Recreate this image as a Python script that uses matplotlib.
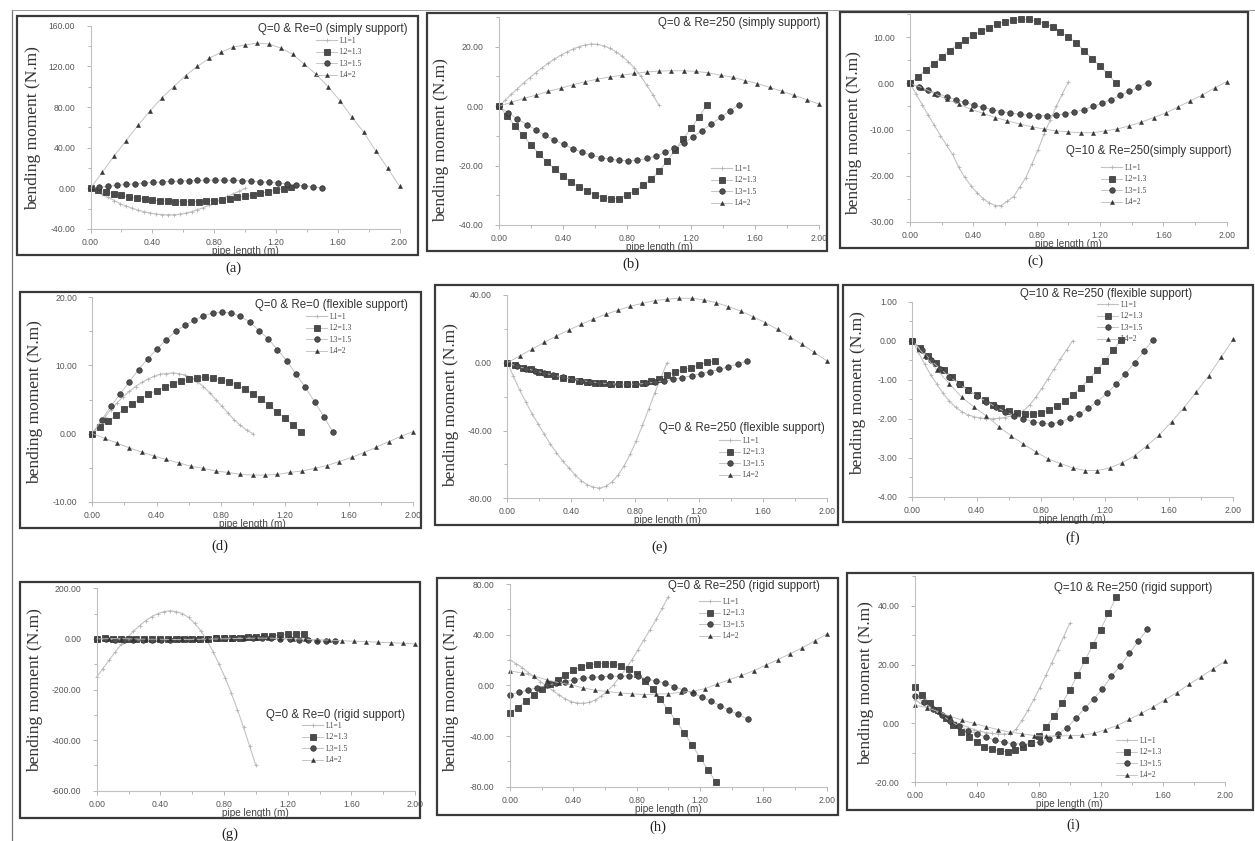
import numpy as np
import matplotlib.pyplot as plt
from matplotlib.patches import Rectangle
from matplotlib.lines import Line2D
from matplotlib.ticker import MultipleLocator, FormatStrFormatter

W, H = 1255, 841

pipe_lengths = [1.0, 1.3, 1.5, 2.0]
series_labels = ['L1=1', 'L2=1.3', 'L3=1.5', 'L4=2']
x_ticks = [0.0, 0.4, 0.8, 1.2, 1.6, 2.0]

# bending moment, 27 stations along each pipe length
a_l1 = [0, -3, -6, -9, -12, -15, -17.5, -19.5, -21.5, -23, -24.3, -25.2, -25.8, -26, -26, -25.5, -24.5, -23, -21, -19, -16.5, -14, -11, -8, -5.5, -3, 0]
a_l2 = [0, -1.5, -3.5, -5.5, -7, -8.5, -9.8, -10.8, -11.6, -12.2, -12.7, -13, -13.2, -13.2, -13, -12.6, -12, -11.2, -10.2, -9, -7.7, -6.3, -4.8, -3.3, -1.8, -0.3, 1.5]
a_l3 = [0, 1, 2, 3, 3.8, 4.5, 5.2, 5.8, 6.3, 6.8, 7.2, 7.5, 7.8, 8, 8, 8, 7.8, 7.5, 7.1, 6.6, 6, 5.3, 4.5, 3.6, 2.6, 1.5, 0.5]
a_l4 = [0, 16, 32, 47, 62, 76, 89, 100, 111, 120, 128, 134, 139, 141, 143, 142, 138, 132, 122, 112, 100, 86, 70, 55, 37, 20, 2]

b_l1 = [0, 2, 4, 5.9, 7.8, 9.6, 11.3, 12.9, 14.4, 15.8, 17.1, 18.2, 19.2, 20, 20.6, 20.9, 20.8, 20.3, 19.5, 18.3, 16.8, 15, 12.8, 10.2, 7.1, 3.8, 0.3]
b_l2 = [0, -3.3, -6.6, -9.8, -13.1, -16, -18.8, -21.2, -23.5, -25.5, -27.2, -28.5, -29.8, -30.8, -31.1, -31.1, -30, -28.5, -26.7, -24.6, -21.8, -18.5, -14.8, -11, -7.5, -3.6, 0.5]
b_l3 = [0, -2.3, -4.3, -6.2, -8, -9.8, -11.4, -12.9, -14.3, -15.5, -16.5, -17.3, -17.9, -18.2, -18.4, -18.2, -17.6, -16.8, -15.6, -14.2, -12.4, -10.4, -8.2, -6, -3.8, -1.6, 0.5]
b_l4 = [0, 1.3, 2.6, 3.7, 5, 6, 7.2, 8.2, 9.1, 9.8, 10.4, 11, 11.5, 11.8, 11.9, 11.9, 11.7, 11.2, 10.4, 9.7, 8.6, 7.6, 6.3, 5, 3.6, 2.2, 0.7]

c_l1 = [0, -2.3, -4.6, -6.9, -9.1, -11.3, -13.4, -15.4, -18.2, -20.4, -22.2, -23.7, -25, -25.9, -26.5, -26.5, -25.5, -24.6, -22.5, -20.5, -17.5, -14.5, -11, -8, -5, -2.3, 0.3]
c_l2 = [0, 1.4, 3, 4.3, 5.8, 7.1, 8.4, 9.5, 10.5, 11.3, 12.1, 12.9, 13.4, 13.7, 13.9, 13.9, 13.6, 13, 12.3, 11.2, 10, 8.8, 7.1, 5.4, 3.8, 2, 0.1]
c_l3 = [0, -0.8, -1.5, -2.2, -2.9, -3.5, -4.1, -4.7, -5.2, -5.7, -6.1, -6.4, -6.7, -6.9, -7, -7, -6.9, -6.6, -6.2, -5.7, -5, -4.3, -3.5, -2.6, -1.7, -0.8, 0.2]
c_l4 = [0, -0.9, -2.2, -3.4, -4.5, -5.6, -6.5, -7.4, -8.1, -8.8, -9.4, -9.9, -10.3, -10.5, -10.7, -10.7, -10.3, -9.9, -9.2, -8.4, -7.4, -6.4, -5.1, -3.8, -2.5, -1, 0.4]

d_l1 = [0, 1.2, 2.4, 3.5, 4.5, 5.4, 6.2, 6.9, 7.5, 8, 8.4, 8.7, 8.8, 8.9, 8.8, 8.6, 8.2, 7.6, 6.9, 6, 5, 4, 3, 2, 1.2, 0.5, 0]
d_l2 = [0, 1, 1.8, 2.7, 3.6, 4.4, 5.1, 5.8, 6.3, 6.8, 7.3, 7.7, 8, 8.2, 8.3, 8.1, 7.9, 7.6, 7.1, 6.5, 5.8, 5.1, 4.2, 3.2, 2.3, 1.2, 0.2]
d_l3 = [0, 2, 4, 5.8, 7.6, 9.4, 11, 12.4, 13.8, 15, 15.9, 16.6, 17.3, 17.7, 17.8, 17.7, 17.2, 16.4, 15.1, 13.9, 12.3, 10.7, 8.7, 6.8, 4.7, 2.5, 0.2]
d_l4 = [0, -0.7, -1.4, -2.1, -2.7, -3.3, -3.8, -4.3, -4.8, -5.1, -5.5, -5.7, -6, -6.1, -6.1, -6, -5.7, -5.5, -5.1, -4.7, -4.1, -3.5, -2.8, -2, -1.2, -0.4, 0.3]

e_l1 = [0, -8, -16, -23, -30, -36, -42, -48, -53, -58, -62, -66, -69.5, -72, -73.5, -74, -73, -70.5, -66.5, -61, -54, -46, -37, -27.5, -18, -9, 0]
e_l2 = [0, -1.6, -2.8, -3.9, -5.3, -6.5, -7.7, -8.9, -9.7, -10.5, -11.2, -11.8, -12.2, -12.6, -12.8, -12.8, -12.6, -12.2, -10.8, -9.3, -7.3, -5.7, -3.9, -2.8, -1.4, 0.4, 1.2]
e_l3 = [0, -2, -3.4, -4.7, -6.1, -7.3, -8.5, -9.5, -10.5, -11.2, -11.8, -12.4, -12.6, -12.8, -12.6, -12.2, -11.4, -10.6, -9.7, -8.7, -7.7, -6.5, -5.3, -3.9, -2.4, -0.8, 1]
e_l4 = [0, 4, 8, 12, 15.8, 19.3, 22.7, 25.8, 28.6, 31, 33.3, 35.1, 36.7, 37.5, 38.1, 38.1, 37.1, 35.5, 33.1, 30.6, 27.2, 23.7, 19.7, 15.4, 10.8, 6.1, 1.2]

f_l1 = [0, -0.3, -0.6, -0.88, -1.12, -1.35, -1.55, -1.7, -1.82, -1.9, -1.95, -1.98, -2, -2, -1.99, -1.97, -1.93, -1.88, -1.8, -1.65, -1.45, -1.22, -0.97, -0.72, -0.47, -0.23, 0]
f_l2 = [0, -0.18, -0.38, -0.57, -0.76, -0.93, -1.1, -1.26, -1.4, -1.53, -1.64, -1.73, -1.8, -1.85, -1.88, -1.88, -1.85, -1.78, -1.68, -1.55, -1.39, -1.2, -0.99, -0.76, -0.51, -0.25, 0.03]
f_l3 = [0, -0.25, -0.5, -0.72, -0.92, -1.1, -1.27, -1.42, -1.56, -1.7, -1.82, -1.92, -2, -2.08, -2.12, -2.14, -2.08, -1.99, -1.89, -1.73, -1.56, -1.35, -1.12, -0.85, -0.57, -0.27, 0.02]
f_l4 = [0, -0.38, -0.75, -1.1, -1.45, -1.7, -1.93, -2.2, -2.44, -2.65, -2.85, -3.03, -3.15, -3.26, -3.33, -3.33, -3.26, -3.13, -2.95, -2.69, -2.42, -2.08, -1.72, -1.32, -0.9, -0.43, 0.04]

g_l1 = [-150, -118, -85, -52, -22, 5, 30, 52, 72, 88, 100, 108, 111, 108, 100, 85, 62, 32, -5, -50, -100, -155, -215, -280, -350, -425, -500]
g_l2 = [0, 2, 1, 0, -1, -1, -1, -1, 0, 0, 0, 0, 0, 1, 1, 2, 3, 4, 5, 7, 8, 10, 12, 15, 18, 20, 21]
g_l3 = [0, -2, -3, -4, -4, -4, -4, -3, -3, -2, -1, 0, 1, 2, 3, 3, 4, 4, 3, 2, 0, -2, -4, -6, -8, -9, -10]
g_l4 = [0, 1, 1, 0, -1, -1, -2, -2, -2, -1, 0, 1, 2, 3, 3, 2, 1, -1, -3, -5, -7, -9, -11, -13, -15, -17, -20]

h_l1 = [20, 17, 14, 10, 6.5, 3, -0.5, -4, -7.5, -10.5, -12.8, -14, -14.2, -13.5, -11.5, -8.5, -4.5, 0.5, 6.5, 13, 20, 28, 36, 44, 52, 61, 70]
h_l2 = [-22, -17.5, -12.5, -7.5, -2.5, 1, 4.5, 8.5, 12, 14.5, 16.3, 17, 17.2, 16.8, 15.5, 13, 9, 3.5, -3, -11, -19.5, -28.5, -37.5, -47, -57, -66.5, -76.5]
h_l3 = [-7.3, -5.5, -3.7, -1.8, 0, 1.5, 3, 4.5, 5.5, 6.4, 6.8, 7.1, 7.4, 7.5, 7.2, 5, 3.3, 1.8, -1, -3.8, -6, -9.3, -12.6, -16, -19.7, -23, -26.6]
h_l4 = [11.5, 9.7, 7.2, 4.4, 2.2, 0.4, -2, -3.9, -4.8, -6, -6.6, -7.4, -6.9, -6.6, -5.5, -4.7, -2.6, 1, 4.5, 7.8, 11.5, 16, 20.3, 25, 29.7, 35, 40.5]

i_l1 = [8, 6.8, 5.6, 4.4, 3.3, 2.2, 1.2, 0.3, -0.6, -1.4, -2.1, -2.7, -3.1, -3.4, -3.6, -3.6, -3.5, -2, 1, 4.5, 8.2, 12.2, 16.3, 20.6, 25, 29.5, 34]
i_l2 = [12.4, 9.6, 7, 4.5, 1.9, -0.6, -2.8, -4.5, -6.2, -7.9, -8.8, -9.4, -9.6, -9, -7.9, -6.6, -4.3, -1.1, 2.6, 6.8, 11.3, 16.4, 21.5, 26.8, 31.9, 37.5, 42.9]
i_l3 = [9.4, 7.2, 4.9, 2.8, 0.8, -0.9, -2.4, -3.6, -4.7, -5.7, -6.4, -6.9, -7, -6.8, -6.2, -5.2, -3.7, -1.6, 1.7, 5.1, 8.3, 11.8, 16, 19.6, 23.8, 27.9, 32]
i_l4 = [6.2, 5.4, 4, 2.4, 1.1, 0, -1.1, -2.1, -3, -3.5, -4.1, -4.3, -4.2, -4.2, -4, -3.4, -2.1, -0.7, 1.4, 3.4, 5.6, 8.1, 10.5, 13.3, 15.8, 18.5, 21.1]

titles = {
    'a': 'Q=0 & Re=0 (simply support)',
    'b': 'Q=0 & Re=250 (simply support)',
    'c': 'Q=10 & Re=250(simply support)',
    'd': 'Q=0 & Re=0 (flexible support)',
    'e': 'Q=0 & Re=250 (flexible support)',
    'f': 'Q=10 & Re=250 (flexible support)',
    'g': 'Q=0 & Re=0 (rigid support)',
    'h': 'Q=0 & Re=250 (rigid support)',
    'i': 'Q=10 & Re=250 (rigid support)',
}

# layout in pixels: axes (x0, x2, y_top, y_bottom), ylim, major/minor y step,
# panel frame, caption, ylabel centre, title anchor (right, y), legend anchor
layout = {
    'a': dict(ax=(90.5, 399.5, 25.7, 229), ylim=(-40, 160), ys=(40, 20), box=(17, 16, 418, 255),
              cap=(233, 268), yl=(33, 128), tt=(408, 29), lg=(316, 37)),
    'b': dict(ax=(499, 819, 17, 225), ylim=(-40, 30), ys=(20, 10), box=(427, 13, 827, 251),
              cap=(631, 264), yl=(441, 140), tt=(820, 23), lg=(711, 165)),
    'c': dict(ax=(910, 1226.7, 14.3, 221.7), ylim=(-30, 15), ys=(10, 5), box=(840, 12, 1248, 248),
              cap=(1035, 261), yl=(854, 133), tt=(1232, 151), lg=(1101, 164)),
    'd': dict(ax=(92.3, 413.3, 297.3, 501.7), ylim=(-10, 20), ys=(10, 5), box=(20, 292, 421, 528),
              cap=(220, 546), yl=(35, 402), tt=(408, 305), lg=(306, 313)),
    'e': dict(ax=(507.3, 826.7, 295, 498.3), ylim=(-80, 40), ys=(40, 20), box=(435, 285, 838, 525),
              cap=(660, 547), yl=(451, 405), tt=(825, 428), lg=(719, 437)),
    'f': dict(ax=(912.3, 1233.3, 301.7, 496.7), ylim=(-4, 1), ys=(1, 0.5), box=(843, 285, 1253, 522),
              cap=(1073, 538), yl=(858, 393), tt=(1192, 294), lg=(1097, 301)),
    'g': dict(ax=(96.7, 415, 588.3, 790.7), ylim=(-600, 200), ys=(200, 100), box=(20, 582, 420, 818),
              cap=(230, 834), yl=(35, 690), tt=(405, 715), lg=(302, 722)),
    'h': dict(ax=(510, 826.7, 584, 786.7), ylim=(-80, 80), ys=(40, 20), box=(437, 578, 838, 815),
              cap=(658, 827), yl=(451, 690), tt=(820, 586), lg=(699, 598)),
    'i': dict(ax=(914.7, 1224.7, 576.3, 782.3), ylim=(-20, 50), ys=(20, 10), box=(847, 573, 1253, 810),
              cap=(1073, 825), yl=(866, 683), tt=(1212, 588), lg=(1116, 737)),
}

series = {
    'a': [a_l1, a_l2, a_l3, a_l4], 'b': [b_l1, b_l2, b_l3, b_l4], 'c': [c_l1, c_l2, c_l3, c_l4],
    'd': [d_l1, d_l2, d_l3, d_l4], 'e': [e_l1, e_l2, e_l3, e_l4], 'f': [f_l1, f_l2, f_l3, f_l4],
    'g': [g_l1, g_l2, g_l3, g_l4], 'h': [h_l1, h_l2, h_l3, h_l4], 'i': [i_l1, i_l2, i_l3, i_l4],
}

styles = [
    dict(marker='+', ms=2.2, mfc='#b4b4b4', mec='#b4b4b4', mew=0.6, color='#c2c2c2', lw=0.8),
    dict(marker='s', ms=4.3, mfc='#4a4a4a', mec='#2f2f2f', mew=0.5, color='#bbbbbb', lw=0.6),
    dict(marker='o', ms=4.0, mfc='#4f4f4f', mec='#2f2f2f', mew=0.5, color='#bbbbbb', lw=0.6),
    dict(marker='^', ms=3.0, mfc='#333333', mec='#333333', mew=0.3, color='#bbbbbb', lw=0.6),
]

SANS = 'Liberation Sans'
SERIF = 'Liberation Serif'

fig = plt.figure(figsize=(W / 100, H / 100), dpi=100)
fig.patch.set_facecolor('white')


def px(x, y):
    return x / W, 1 - y / H


# outer page frame
fig.add_artist(Line2D([12 / W, 12 / W], [0, 1 - 10 / H], transform=fig.transFigure, color='#777777', lw=0.9))
fig.add_artist(Line2D([12 / W, 1], [1 - 10 / H, 1 - 10 / H], transform=fig.transFigure, color='#999999', lw=0.7))

for key in 'abcdefghi':
    L = layout[key]
    x0, x2, yt, yb = L['ax']
    ax = fig.add_axes([x0 / W, 1 - yb / H, (x2 - x0) / W, (yb - yt) / H])
    ax.set_facecolor('none')

    lines = []
    for length, vals, st in zip(pipe_lengths, series[key], styles):
        xs = np.linspace(0, length, len(vals))
        ln, = ax.plot(xs, vals, clip_on=False, **st)
        lines.append(ln)

    ax.set_xlim(0, 2.0)
    ax.set_ylim(*L['ylim'])
    ax.set_xticks(x_ticks)
    ax.xaxis.set_minor_locator(MultipleLocator(0.2))
    ax.yaxis.set_major_locator(MultipleLocator(L['ys'][0]))
    ax.yaxis.set_minor_locator(MultipleLocator(L['ys'][1]))
    ax.xaxis.set_major_formatter(FormatStrFormatter('%.2f'))
    ax.yaxis.set_major_formatter(FormatStrFormatter('%.2f'))
    for s in ('top', 'right'):
        ax.spines[s].set_visible(False)
    for s in ('left', 'bottom'):
        ax.spines[s].set_color('#c0c0c0')
        ax.spines[s].set_linewidth(0.8)
    ax.tick_params(which='both', colors='#aaaaaa', labelcolor='#555555', labelsize=6.2, width=0.6)
    ax.tick_params(which='major', length=3)
    ax.tick_params(which='minor', length=2)
    ax.tick_params(axis='x', pad=3.5)
    ax.tick_params(axis='y', pad=8)
    for lab in ax.get_xticklabels() + ax.get_yticklabels():
        lab.set_family(SANS)

    leg = ax.legend(lines, series_labels, loc='upper left',
                    bbox_to_anchor=px(*L['lg']), bbox_transform=fig.transFigure,
                    frameon=False, prop=dict(family=SERIF, size=5.5),
                    handlelength=2.8, handletextpad=0.3, labelspacing=0.45,
                    borderpad=0, borderaxespad=0)
    for t in leg.get_texts():
        t.set_color('#444444')

    # panel frame
    bx0, by0, bx1, by1 = L['box']
    fig.add_artist(Rectangle(px(bx0, by1), (bx1 - bx0) / W, (by1 - by0) / H,
                             transform=fig.transFigure, fill=False, ec='#3a3a3a', lw=1.6))

    fig.text(*px(*L['tt']), titles[key], ha='right', va='center', family=SANS,
             fontsize=8.3, color='#333333')
    fig.text(*px(*L['yl']), 'bending moment (N.m)', rotation=90, ha='center', va='center',
             family=SERIF, fontsize=12.5, color='#333333')
    fig.text(*px((x0 + x2) / 2, yb + 22), 'pipe length (m)', ha='center', va='center',
             family=SANS, fontsize=7.2, color='#444444')
    fig.text(*px(*L['cap']), '(%s)' % key, ha='center', va='center', family=SERIF,
             fontsize=10.5, color='#222222')

fig.savefig('out.png', dpi=100, facecolor=fig.get_facecolor())
